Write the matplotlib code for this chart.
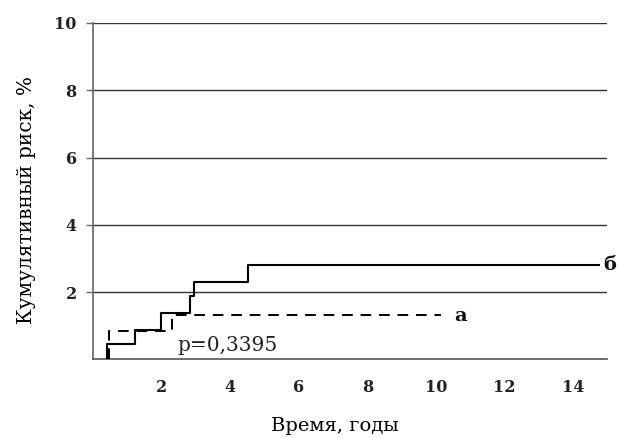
import matplotlib
matplotlib.use("Agg")
import matplotlib.pyplot as plt

# Data
b_x = [0.39, 0.39, 1.22, 1.22, 1.97, 1.97, 2.83, 2.83, 2.95, 2.95, 4.52, 4.52, 14.78]
b_y = [0.0, 0.45, 0.45, 0.87, 0.87, 1.39, 1.39, 1.87, 1.87, 2.30, 2.30, 2.81, 2.81]
a_x = [0.46, 0.46, 2.29, 2.29, 10.15]
a_y = [0.0, 0.84, 0.84, 1.33, 1.33]
xticks = [2, 4, 6, 8, 10, 12, 14]
xtick_marks = [2, 6, 10, 14]
yticks = [2, 4, 6, 8, 10]

plt.rcParams['font.family'] = ['DejaVu Serif']
fig = plt.figure(figsize=(6.2, 4.38), dpi=100)
ax = fig.add_axes([0.1506, 0.1797, 0.979 - 0.1506, 0.9475 - 0.1797])
ax.set_xlim(0, 15)
ax.set_ylim(0, 10)

for y in yticks:
    ax.axhline(y, color='#333333', lw=1.0, zorder=1)

ax.plot(b_x, b_y, color='black', lw=1.5, zorder=3)
ax.plot(a_x, a_y, color='black', lw=1.4, ls=(0, (5.5, 4)), zorder=3)

ax.text(14.89, b_y[-1], 'б', fontsize=14, fontweight='bold', va='center', ha='left', color='#111111')
ax.text(10.53, a_y[-1] - 0.05, 'а', fontsize=14, fontweight='bold', va='center', ha='left', color='#111111')
ax.text(2.45, 0.40, 'p=0,3395', fontsize=14.5, va='center', ha='left', color='#222222')

for s in ['top', 'right']:
    ax.spines[s].set_visible(False)
ax.spines['left'].set_color('#666666')
ax.spines['bottom'].set_color('#555555')
ax.spines['left'].set_linewidth(1.2)
ax.spines['bottom'].set_linewidth(1.2)

ax.set_xticks(xticks)
ax.set_xticks(xtick_marks, minor=True)
ax.set_yticks(yticks)
ax.tick_params(axis='x', which='major', length=0, pad=14, labelsize=11.5)
ax.tick_params(axis='x', which='minor', direction='out', length=4, width=1, color='#555555')
ax.tick_params(axis='y', direction='out', length=5, width=1, color='#666666', labelsize=11.5, pad=7)
for lab in ax.get_xticklabels() + ax.get_yticklabels():
    lab.set_fontweight('bold')
    lab.set_color('#222222')

ax.set_xlabel('Время, годы', fontsize=14)
ax.xaxis.set_label_coords(0.47, -0.172)
ax.set_ylabel('Кумулятивный риск, %', fontsize=14.5)
ax.yaxis.set_label_coords(-0.112, 0.474)

fig.savefig('out.png', dpi=100)
